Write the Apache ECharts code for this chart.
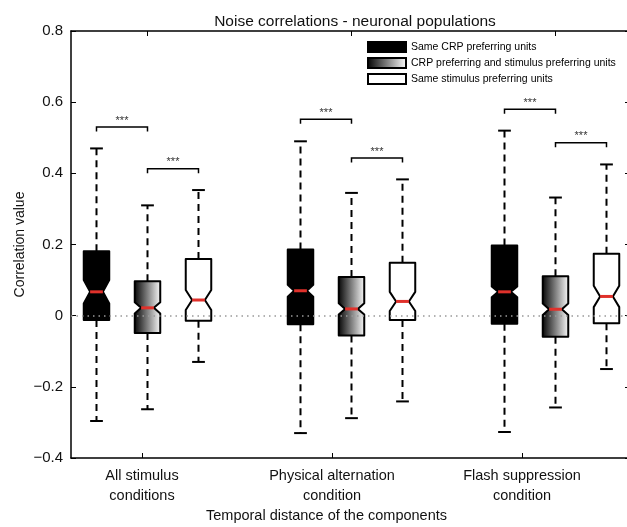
<!DOCTYPE html>
<html>
<head>
<meta charset="utf-8">
<script src="https://cdn.jsdelivr.net/npm/echarts@6.0.0/dist/echarts.min.js"></script>
<style>
  html, body { margin: 0; padding: 0; background: #fff; }
  #main { width: 627px; height: 527px; }
</style>
</head>
<body>
<div id="main"></div>
<script>
// conditions along the x axis (label positions are in box-slot units)
var conditions = ['All stimulus\nconditions', 'Physical alternation\ncondition', 'Flash suppression\ncondition'];
var labelPos = [1.892, 5.618, 9.343];
var topTickPos = [2, 6, 10];

var seriesNames = ['Same CRP preferring units', 'CRP preferring and stimulus preferring units', 'Same stimulus preferring units'];
var boxPos = [[1, 5, 9], [2, 6, 10], [3, 7, 11]];

// per condition: [lower whisker, q1, notch low, median, notch high, q3, upper whisker]
var sameCRP = [
  [-0.296, -0.012, 0.034, 0.067, 0.100, 0.181, 0.47],
  [-0.33, -0.024, 0.053, 0.070, 0.087, 0.186, 0.49],
  [-0.327, -0.023, 0.052, 0.067, 0.082, 0.197, 0.52]
];
var mixed = [
  [-0.263, -0.049, 0.006, 0.022, 0.038, 0.097, 0.31],
  [-0.288, -0.056, 0.003, 0.019, 0.035, 0.109, 0.345],
  [-0.258, -0.059, 0.002, 0.018, 0.034, 0.111, 0.332]
];
var sameStim = [
  [-0.13, -0.014, 0.016, 0.044, 0.072, 0.159, 0.353],
  [-0.241, -0.012, 0.013, 0.040, 0.067, 0.149, 0.383],
  [-0.15, -0.021, 0.024, 0.054, 0.084, 0.174, 0.425]
];

// significance brackets: from slot, to slot, height
var bracketFrom = [1, 2, 5, 6, 9, 10];
var bracketTo = [2, 3, 6, 7, 10, 11];
var bracketY = [0.530, 0.413, 0.552, 0.443, 0.580, 0.486];

var font = 'Liberation Sans, Arial, Helvetica, sans-serif';
var boxWidth = 0.5;

var gradFill = {
  type: 'linear', x: 0, y: 0, x2: 1, y2: 0,
  colorStops: [{ offset: 0, color: '#000' }, { offset: 1, color: '#fff' }]
};
var fills = ['#000', gradFill, '#fff'];

function makeBoxRender(fill) {
  return function (params, api) {
    var x = api.value(0);
    var lo = api.value(1), q1 = api.value(2), nLo = api.value(3), med = api.value(4),
        nHi = api.value(5), q3 = api.value(6), hi = api.value(7);
    var cx = api.coord([x, med])[0];
    var Y = function (v) { return api.coord([x, v])[1]; };
    var half = api.size([boxWidth, 0])[0] / 2;
    var ind = half / 2;
    var cap = half / 2;
    var L = cx - half, R = cx + half;
    var dash = { stroke: '#000', lineWidth: 2, lineDash: [7, 5] };
    var solid = { stroke: '#000', lineWidth: 2 };
    return {
      type: 'group',
      children: [
        { type: 'line', shape: { x1: cx, y1: Y(q3), x2: cx, y2: Y(hi) }, style: dash },
        { type: 'line', shape: { x1: cx, y1: Y(q1), x2: cx, y2: Y(lo) }, style: dash },
        { type: 'line', shape: { x1: cx - cap, y1: Y(hi), x2: cx + cap, y2: Y(hi) }, style: solid },
        { type: 'line', shape: { x1: cx - cap, y1: Y(lo), x2: cx + cap, y2: Y(lo) }, style: solid },
        {
          type: 'polygon',
          shape: {
            points: [
              [L, Y(q3)], [R, Y(q3)], [R, Y(nHi)], [R - ind, Y(med)], [R, Y(nLo)],
              [R, Y(q1)], [L, Y(q1)], [L, Y(nLo)], [L + ind, Y(med)], [L, Y(nHi)]
            ]
          },
          style: { fill: fill, stroke: '#000', lineWidth: 2, lineJoin: 'round' }
        },
        { type: 'line', shape: { x1: cx - ind, y1: Y(med), x2: cx + ind, y2: Y(med) },
          style: { stroke: '#e0312b', lineWidth: 3 } }
      ]
    };
  };
}

function boxData(pos, stats) {
  var out = [];
  for (var i = 0; i < stats.length; i++) {
    out.push([pos[i]].concat(stats[i]));
  }
  return out;
}

var allStats = [sameCRP, mixed, sameStim];
var series = [];
for (var s = 0; s < 3; s++) {
  series.push({
    type: 'custom',
    name: seriesNames[s],
    xAxisIndex: 0,
    yAxisIndex: 0,
    renderItem: makeBoxRender(fills[s]),
    itemStyle: { color: fills[s], borderColor: '#000', borderWidth: 2 },
    encode: { x: 0, y: [1, 7] },
    data: boxData(boxPos[s], allStats[s]),
    z: 2
  });
}

var bracketData = [];
for (var b = 0; b < bracketFrom.length; b++) {
  bracketData.push([bracketFrom[b], bracketTo[b], bracketY[b]]);
}
series.push({
  type: 'custom',
  name: 'brackets',
  xAxisIndex: 0,
  yAxisIndex: 0,
  encode: { x: [0, 1], y: 2 },
  data: bracketData,
  renderItem: function (params, api) {
    var p1 = api.coord([api.value(0), api.value(2)]);
    var p2 = api.coord([api.value(1), api.value(2)]);
    var leg = 4.5;
    return {
      type: 'group',
      children: [
        { type: 'polyline',
          shape: { points: [[p1[0], p1[1] + leg], p1, p2, [p2[0], p2[1] + leg]] },
          style: { stroke: '#000', lineWidth: 1.5, fill: null } },
        { type: 'text',
          style: { text: '***', x: (p1[0] + p2[0]) / 2, y: p1[1] - 1, align: 'center',
                   verticalAlign: 'bottom', fontSize: 11, fontFamily: font, fill: '#333' } }
      ]
    };
  },
  z: 3
});

// dotted zero line
series.push({
  type: 'line',
  name: 'zero',
  data: [],
  z: 5,
  markLine: {
    silent: true,
    symbol: 'none',
    label: { show: false },
    lineStyle: { type: [1.5, 4], color: '#999', width: 1.5 },
    data: [{ yAxis: 0 }]
  }
});

var chart = echarts.init(document.getElementById('main'));
var option = {
  backgroundColor: '#fff',
  animation: false,
  title: {
    text: 'Noise correlations - neuronal populations',
    left: 350,
    top: 9,
    textAlign: 'center',
    textStyle: { fontFamily: font, fontSize: 15.5, fontWeight: 'normal', color: '#111' }
  },
  legend: {
    orient: 'vertical',
    left: 367,
    top: 41,
    padding: 0,
    itemWidth: 38,
    itemHeight: 10,
    itemGap: 4,
    icon: 'rect',
    data: [
      { name: seriesNames[0], itemStyle: { color: fills[0], borderColor: '#000', borderWidth: 2 } },
      { name: seriesNames[1], itemStyle: { color: gradFill, borderColor: '#000', borderWidth: 2 } },
      { name: seriesNames[2], itemStyle: { color: fills[2], borderColor: '#000', borderWidth: 2 } }
    ],
    textStyle: { fontFamily: font, fontSize: 10.5, color: '#000', lineHeight: 11 },
    selectedMode: false
  },
  grid: { left: 71, right: 0, top: 31, bottom: 69 },
  xAxis: [
    {
      type: 'value',
      position: 'bottom',
      min: 0.5,
      max: 11.402,
      axisLine: { show: true, onZero: false, lineStyle: { color: '#000', width: 1.5 } },
      axisTick: { show: true, inside: true, length: 5, customValues: labelPos, lineStyle: { color: '#000', width: 1 } },
      axisLabel: {
        customValues: labelPos,
        margin: 8,
        fontFamily: font,
        fontSize: 14.5,
        lineHeight: 20,
        color: '#111',
        formatter: function (v) {
          for (var i = 0; i < labelPos.length; i++) {
            if (Math.abs(labelPos[i] - v) < 1e-6) return conditions[i];
          }
          return '';
        }
      },
      splitLine: { show: false }
    },
    {
      type: 'value',
      position: 'top',
      min: 0.5,
      max: 11.402,
      axisLine: { show: true, onZero: false, lineStyle: { color: '#000', width: 1.5 } },
      axisTick: { show: true, inside: true, length: 5, customValues: topTickPos, lineStyle: { color: '#000', width: 1 } },
      axisLabel: { show: false },
      splitLine: { show: false }
    }
  ],
  yAxis: [
    {
      type: 'value',
      min: -0.4,
      max: 0.8,
      interval: 0.2,
      name: 'Correlation value',
      nameLocation: 'middle',
      nameGap: 44,
      nameMoveOverlap: false,
      nameTextStyle: { fontFamily: font, fontSize: 14, color: '#111' },
      axisLine: { show: true, onZero: false, lineStyle: { color: '#000', width: 1.5 } },
      axisTick: { show: true, inside: true, length: 5, lineStyle: { color: '#000', width: 1 } },
      axisLabel: {
        margin: 8,
        fontFamily: font,
        fontSize: 15,
        color: '#111',
        formatter: function (v) {
          if (Math.abs(v) < 1e-9) return '0';
          return (v < 0 ? '\u2212' : '') + Math.abs(v).toFixed(1);
        }
      },
      splitLine: { show: false }
    },
    {
      type: 'value',
      position: 'right',
      min: -0.4,
      max: 0.8,
      interval: 0.2,
      axisLine: { show: false },
      axisTick: { show: true, inside: true, length: 2, lineStyle: { color: '#000', width: 1 } },
      axisLabel: { show: false },
      splitLine: { show: false }
    }
  ],
  graphic: [
    {
      type: 'text',
      left: 326 - 120,
      top: 508,
      style: { text: 'Temporal distance of the components', fontFamily: font, fontSize: 14.5, fill: '#111' }
    }
  ],
  series: series
};
chart.setOption(option);
</script>
</body>
</html>
